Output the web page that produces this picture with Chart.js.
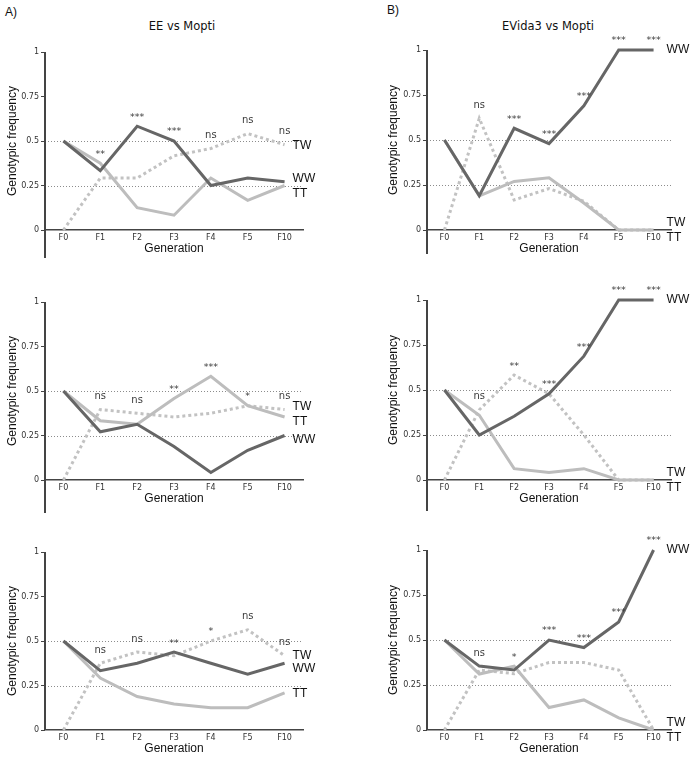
<!DOCTYPE html>
<html>
<head>
<meta charset="utf-8">
<script src="https://cdn.jsdelivr.net/npm/chart.js@4.4.0/dist/chart.umd.min.js"></script>
<style>
  body { margin: 0; background: #fff; overflow: hidden; }
  #wrap { position: relative; width: 693px; height: 758px; overflow: hidden; }
  canvas { position: absolute; }
  .txt { position: absolute; color: #111; white-space: nowrap; }
  .tag { font: 12px "Liberation Sans", Arial, sans-serif; }
  .title { font: 11.5px "DejaVu Sans", sans-serif; transform: translate(-50%, -50%); }
</style>
</head>
<body>
<div id="wrap">
  <div class="txt tag" style="left:5px;top:5px;">A)</div>
  <div class="txt tag" style="left:387px;top:3px;">B)</div>
  <div class="txt title" style="left:182px;top:26px;">EE vs Mopti</div>
  <div class="txt title" style="left:548px;top:26px;">EVida3 vs Mopti</div>
  <canvas id="a1" width="346" height="265" style="left:0;top:0;"></canvas>
  <canvas id="b1" width="347" height="265" style="left:346px;top:0;"></canvas>
  <canvas id="a2" width="346" height="265" style="left:0;top:250px;"></canvas>
  <canvas id="b2" width="347" height="265" style="left:346px;top:250px;"></canvas>
  <canvas id="a3" width="346" height="265" style="left:0;top:500px;"></canvas>
  <canvas id="b3" width="347" height="265" style="left:346px;top:500px;"></canvas>
</div>
<script>
// shared axes
const generations = ["F0", "F1", "F2", "F3", "F4", "F5", "F10"];
const freqTicks = [0, 0.25, 0.5, 0.75, 1];
const refLines = [0.25, 0.5];

// A) EE vs Mopti
const eeWW1 = [0.5, 0.333, 0.583, 0.5, 0.25, 0.292, 0.271];
const eeTT1 = [0.5, 0.375, 0.125, 0.083, 0.292, 0.167, 0.25];
const eeTW1 = [0, 0.292, 0.292, 0.417, 0.458, 0.542, 0.479];
const eeSig1 = ["", "**", "***", "***", "ns", "ns", "ns"];

const eeWW2 = [0.5, 0.271, 0.313, 0.188, 0.042, 0.167, 0.25];
const eeTT2 = [0.5, 0.333, 0.313, 0.458, 0.583, 0.417, 0.354];
const eeTW2 = [0, 0.396, 0.375, 0.354, 0.375, 0.417, 0.396];
const eeSig2 = ["", "ns", "ns", "**", "***", "*", "ns"];

const eeWW3 = [0.5, 0.333, 0.375, 0.438, 0.375, 0.313, 0.375];
const eeTT3 = [0.5, 0.292, 0.188, 0.146, 0.125, 0.125, 0.208];
const eeTW3 = [0, 0.375, 0.438, 0.417, 0.5, 0.563, 0.417];
const eeSig3 = ["", "ns", "ns", "**", "*", "ns", "ns"];

// B) EVida3 vs Mopti
const evWW1 = [0.5, 0.19, 0.565, 0.48, 0.69, 1, 1];
const evTT1 = [0.5, 0.19, 0.27, 0.29, 0.15, 0, 0];
const evTW1 = [0, 0.62, 0.167, 0.23, 0.16, 0, 0];
const evSig1 = ["", "ns", "***", "***", "***", "***", "***"];

const evWW2 = [0.5, 0.25, 0.354, 0.479, 0.688, 1, 1];
const evTT2 = [0.5, 0.36, 0.063, 0.042, 0.063, 0, 0];
const evTW2 = [0, 0.39, 0.583, 0.479, 0.25, 0, 0];
const evSig2 = ["", "ns", "**", "***", "***", "***", "***"];

const evWW3 = [0.5, 0.355, 0.333, 0.5, 0.458, 0.6, 1];
const evTT3 = [0.5, 0.311, 0.354, 0.125, 0.167, 0.067, 0];
const evTW3 = [0, 0.333, 0.313, 0.375, 0.375, 0.333, 0];
const evSig3 = ["", "ns", "*", "***", "***", "***", "***"];

const AXIS = "#444444";
const WW_COLOR = "#666666";
const TT_COLOR = "#bdbdbd";
const TW_COLOR = "#c2c2c2";

// draws the things Chart.js has no option for
function decor(panel) {
  return {
    id: "decor",
    beforeDatasetsDraw(chart) {
      // dotted reference lines at 0.25 and 0.5
      const { ctx, chartArea } = chart;
      const ys = chart.scales.y;
      ctx.save();
      ctx.strokeStyle = "#8c8c8c";
      ctx.lineWidth = 1;
      ctx.setLineDash([1, 2]);
      refLines.forEach((v) => {
        const py = Math.round(ys.getPixelForValue(v)) + 0.5;
        ctx.beginPath();
        ctx.moveTo(chartArea.left, py);
        ctx.lineTo(chartArea.right, py);
        ctx.stroke();
      });
      ctx.restore();
    },
    afterDraw(chart) {
      const { ctx, chartArea } = chart;
      const xs = chart.scales.x;
      const ys = chart.scales.y;
      ctx.save();

      // y axis, drawn solid, running on under the x axis
      const ax = Math.round(ys.right);
      ctx.fillStyle = AXIS;
      ctx.fillRect(ax - 1, chartArea.top, 2, chartArea.bottom - chartArea.top + panel.axisTail);

      // significance marks above each generation
      ctx.fillStyle = "#3a3a3a";
      ctx.textAlign = "center";
      panel.sig.forEach((s, i) => {
        if (!s) return;
        const top = Math.max(panel.ww[i], panel.tt[i], panel.tw[i]);
        const px = xs.getPixelForValue(i);
        const py = ys.getPixelForValue(top);
        if (s === "ns") {
          ctx.font = '10px "DejaVu Sans", sans-serif';
          ctx.textBaseline = "bottom";
          ctx.fillText(s, px, py - 8);
        } else {
          ctx.font = '9.5px "DejaVu Sans", sans-serif';
          ctx.textBaseline = "middle";
          ctx.fillText(s, px, py - 9);
        }
      });

      // genotype names at the right end
      ctx.fillStyle = "#111";
      ctx.textAlign = "left";
      ctx.textBaseline = "middle";
      ctx.font = '12px "Liberation Sans", Arial, sans-serif';
      const lx = xs.getPixelForValue(generations.length - 1) + panel.labelGap;
      Object.keys(panel.names).forEach((k) => {
        ctx.fillText(k, lx, ys.getPixelForValue(panel.names[k]));
      });
      ctx.restore();
    },
  };
}

function makePanel(id, panel, side) {
  const left = side === "A";
  new Chart(document.getElementById(id), {
    type: "line",
    data: {
      labels: generations,
      datasets: [
        { label: "WW", data: panel.ww, borderColor: WW_COLOR, order: 1 },
        { label: "TT", data: panel.tt, borderColor: TT_COLOR, order: 2 },
        { label: "TW", data: panel.tw, borderColor: TW_COLOR, borderDash: [3, 3], order: 3 },
      ].map((d) => Object.assign({ borderWidth: 3, pointRadius: 0, tension: 0, clip: false, fill: false }, d)),
    },
    options: {
      responsive: false,
      animation: false,
      events: [],
      layout: {
        padding: { left: left ? 0 : 35, right: left ? 43 : 22, top: left ? 52 : 50, bottom: 5 },
      },
      plugins: { legend: { display: false }, tooltip: { enabled: false } },
      scales: {
        x: {
          offset: true,
          grid: { display: false, drawTicks: false },
          border: { display: true, color: AXIS, width: 1.5 },
          ticks: {
            color: "#333",
            font: { family: "DejaVu Sans", size: 8 },
            padding: 3,
            maxRotation: 0,
            autoSkip: false,
          },
          title: {
            display: true,
            text: "Generation",
            color: "#111",
            font: { family: "Liberation Sans", size: 12 },
            padding: { top: 0, bottom: 4 },
          },
          afterFit: (s) => { s.height = 30; },
        },
        y: {
          min: 0,
          max: 1,
          afterBuildTicks: (s) => { s.ticks = freqTicks.map((v) => ({ value: v })); },
          ticks: {
            color: "#333",
            font: { family: "DejaVu Sans", size: 8 },
            padding: 2,
            callback: (v) => String(v),
          },
          grid: {
            drawOnChartArea: false,
            drawTicks: true,
            color: AXIS,
            tickColor: AXIS,
            tickLength: 4,
          },
          border: { display: false },
          title: {
            display: true,
            text: "Genotypic frequency",
            color: "#111",
            font: { family: "Liberation Sans", size: 12 },
            padding: { top: 5, bottom: 0 },
          },
          afterFit: (s) => { s.width = left ? 45 : 46; },
        },
      },
    },
    plugins: [decor(Object.assign({ labelGap: left ? 8 : 13 }, panel))],
  });
}

makePanel("a1", { ww: eeWW1, tt: eeTT1, tw: eeTW1, sig: eeSig1, axisTail: 28,
  names: { TW: 0.474, WW: 0.287, TT: 0.206 } }, "A");
makePanel("b1", { ww: evWW1, tt: evTT1, tw: evTW1, sig: evSig1, axisTail: 24,
  names: { WW: 1, TW: 0.04, TT: -0.04 } }, "B");
makePanel("a2", { ww: eeWW2, tt: eeTT2, tw: eeTW2, sig: eeSig2, axisTail: 33,
  names: { TW: 0.41, TT: 0.33, WW: 0.225 } }, "A");
makePanel("b2", { ww: evWW2, tt: evTT2, tw: evTW2, sig: evSig2, axisTail: 31,
  names: { WW: 1, TW: 0.04, TT: -0.04 } }, "B");
makePanel("a3", { ww: eeWW3, tt: eeTT3, tw: eeTW3, sig: eeSig3, axisTail: 0,
  names: { TW: 0.42, WW: 0.346, TT: 0.206 } }, "A");
makePanel("b3", { ww: evWW3, tt: evTT3, tw: evTW3, sig: evSig3, axisTail: 0,
  names: { WW: 1, TW: 0.04, TT: -0.04 } }, "B");
</script>
</body>
</html>
